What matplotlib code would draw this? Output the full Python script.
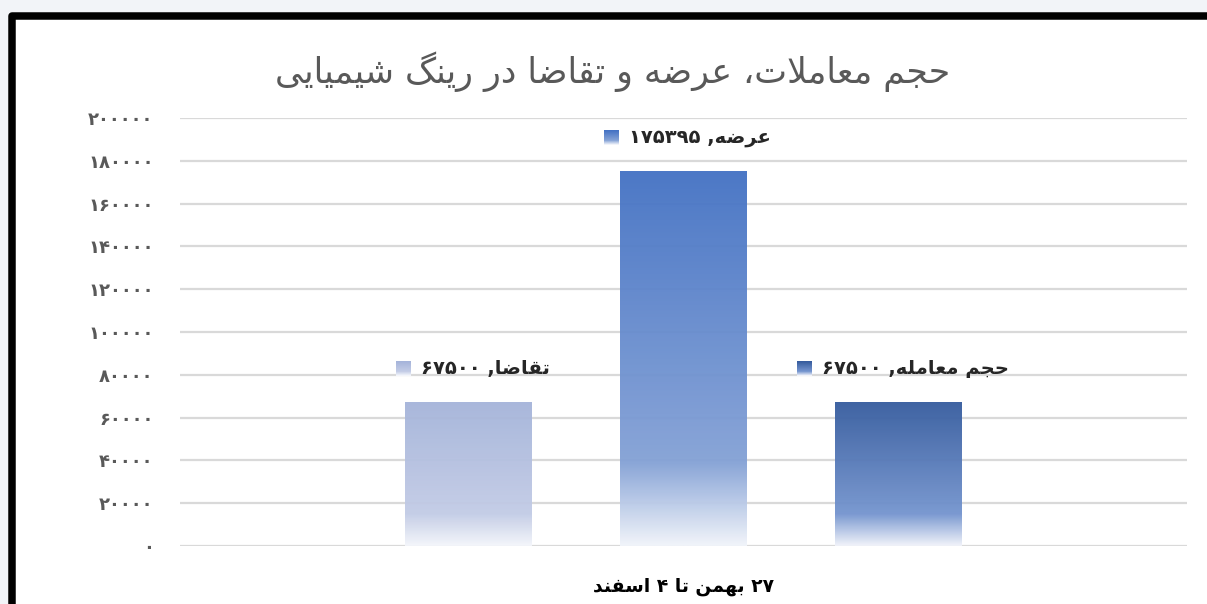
"""
Recreate: trading volume, supply and demand in the chemical ring (Persian bar chart)
"""

import matplotlib
matplotlib.use("Agg")
import matplotlib.pyplot as plt
import numpy as np
from matplotlib.colors import LinearSegmentedColormap
from matplotlib.offsetbox import AnnotationBbox, HPacker, OffsetImage, TextArea
from matplotlib.patches import Rectangle

# ── Data ─────────────────────────────────────────────────────────────────────
TITLE = "حجم معاملات، عرضه و تقاضا در رینگ شیمیایی"
CATEGORY = "۲۷ بهمن تا ۴ اسفند"
SERIES = ["تقاضا", "عرضه", "حجم معامله"]
VALUES = [67500, 175395, 67500]
Y_TICKS = [0, 20000, 40000, 60000, 80000, 100000, 120000, 140000, 160000, 180000, 200000]

# gradient stops per series: top, ~78%, bottom
GRADIENTS = [
    ["#A5B4DA", "#C3CCE6", "#F4F6FB"],
    ["#4472C4", "#85A2D6", "#F1F4FA"],
    ["#365C9E", "#7595CF", "#F1F3FA"],
]

# ── Minimal Persian shaping (matplotlib has no bidi / joining) ───────────────
FORMS = {
    "ا": (0xFE8D, 0xFE8E, None, None),
    "ب": (0xFE8F, 0xFE90, 0xFE91, 0xFE92),
    "ت": (0xFE95, 0xFE96, 0xFE97, 0xFE98),
    "ج": (0xFE9D, 0xFE9E, 0xFE9F, 0xFEA0),
    "ح": (0xFEA1, 0xFEA2, 0xFEA3, 0xFEA4),
    "د": (0xFEA9, 0xFEAA, None, None),
    "ر": (0xFEAD, 0xFEAE, None, None),
    "س": (0xFEB1, 0xFEB2, 0xFEB3, 0xFEB4),
    "ش": (0xFEB5, 0xFEB6, 0xFEB7, 0xFEB8),
    "ض": (0xFEBD, 0xFEBE, 0xFEBF, 0xFEC0),
    "ع": (0xFEC9, 0xFECA, 0xFECB, 0xFECC),
    "ف": (0xFED1, 0xFED2, 0xFED3, 0xFED4),
    "ق": (0xFED5, 0xFED6, 0xFED7, 0xFED8),
    "ل": (0xFEDD, 0xFEDE, 0xFEDF, 0xFEE0),
    "م": (0xFEE1, 0xFEE2, 0xFEE3, 0xFEE4),
    "ن": (0xFEE5, 0xFEE6, 0xFEE7, 0xFEE8),
    "ه": (0xFEE9, 0xFEEA, 0xFEEB, 0xFEEC),
    "و": (0xFEED, 0xFEEE, None, None),
    "ی": (0xFBFC, 0xFBFD, 0xFBFE, 0xFBFF),
    "گ": (0xFB92, 0xFB93, 0xFB94, 0xFB95),
}
DIGITS = "۰۱۲۳۴۵۶۷۸۹"


def shape_word(w):
    out, i = [], 0
    while i < len(w):
        c = w[i]
        prev = i > 0 and FORMS[w[i - 1]][2] is not None
        if c == "ل" and i + 1 < len(w) and w[i + 1] == "ا":
            out.append(chr(0xFEFC if prev else 0xFEFB))
            i += 2
            continue
        nxt = i + 1 < len(w) and FORMS[c][2] is not None
        iso, fin, ini, med = FORMS[c]
        if prev and nxt:
            out.append(chr(med))
        elif prev:
            out.append(chr(fin))
        elif nxt:
            out.append(chr(ini))
        else:
            out.append(chr(iso))
        i += 1
    return "".join(reversed(out))


def fa(text):
    tokens, cur, kind = [], "", None
    for ch in text:
        k = "L" if ch in FORMS else ("D" if ch in DIGITS else "N")
        if k == kind and k != "N":
            cur += ch
        else:
            if cur:
                tokens.append((kind, cur))
            cur, kind = ch, k
    if cur:
        tokens.append((kind, cur))
    vis = [shape_word(t) if k == "L" else t for k, t in tokens]
    return "".join(reversed(vis))


def fa_num(n):
    return str(n).translate(str.maketrans("0123456789", DIGITS))


# ── Figure ───────────────────────────────────────────────────────────────────
W, H = 1207, 604
fig = plt.figure(figsize=(W / 100, H / 100), dpi=100, facecolor="#F2F4F8")
plt.rcParams["font.family"] = ["DejaVu Sans"]

# screenshot frame: black border on top / left
fig.add_artist(Rectangle((11.5 / W, -20 / H), (1240 - 11.5) / W, (588 + 20) / H,
                         transform=fig.transFigure, facecolor="white",
                         edgecolor="black", linewidth=5.4, joinstyle="round", zorder=0))

ax = fig.add_axes([180 / W, (H - 546) / H, (1187 - 180) / W, (546 - 118) / H])
ax.set_facecolor("none")

x = np.arange(len(SERIES)) - 1
bars = ax.bar(x, VALUES, width=0.59, color="none", zorder=2)

ramp = np.linspace(0, 1, 256)[:, None]
for b, stops in zip(bars, GRADIENTS):
    cmap = LinearSegmentedColormap.from_list("g", list(zip([0, 0.78, 1], stops)))
    x0, y0 = b.get_x(), b.get_y()
    im = ax.imshow(ramp, cmap=cmap, aspect="auto", origin="upper", alpha=0.96,
                   extent=[x0, x0 + b.get_width(), y0, y0 + b.get_height()], zorder=2)
    im.set_clip_path(b)

ax.set_xlim(-2.342, 2.342)
ax.set_ylim(0, 200000)
ax.set_yticks(Y_TICKS)
ax.set_yticklabels([fa_num(v) for v in Y_TICKS], color="#595959",
                   fontsize=13, fontweight="bold")
ax.set_xticks([0])
ax.set_xticklabels([fa(CATEGORY)], fontsize=13.5, fontweight="bold", color="black")
ax.tick_params(axis="y", length=0, pad=19)
ax.tick_params(axis="x", length=0, pad=22)
ax.grid(axis="y", color="#D9D9D9", linewidth=1.6, zorder=0)
ax.set_axisbelow(True)
for s in ax.spines.values():
    s.set_visible(False)

# ── data labels: legend key + "series, value" ───────────────────────────────
for xi, name, val, stops in zip(x, SERIES, VALUES, GRADIENTS):
    cmap = LinearSegmentedColormap.from_list("k", list(zip([0, 0.7, 1], stops)))
    key = cmap(np.linspace(0, 1, 15))[:, None, :3].repeat(15, axis=1)
    box = HPacker(children=[OffsetImage(key, zoom=0.72),
                            TextArea(fa(f"{name}, {fa_num(val)}"),
                                     textprops=dict(fontsize=14, fontweight="bold",
                                                    color="#262626"))],
                  align="center", pad=0, sep=7)
    ab = AnnotationBbox(box, (xi, val), xybox=(3, 24), xycoords="data",
                        boxcoords="offset points", frameon=False,
                        box_alignment=(0.5, 0.5), zorder=5)
    ax.add_artist(ab)

fig.text(613 / W, (H - 72) / H, fa(TITLE), ha="center", va="center",
         fontsize=25, color="#595959")

fig.savefig("out.png", dpi=100, facecolor=fig.get_facecolor())
